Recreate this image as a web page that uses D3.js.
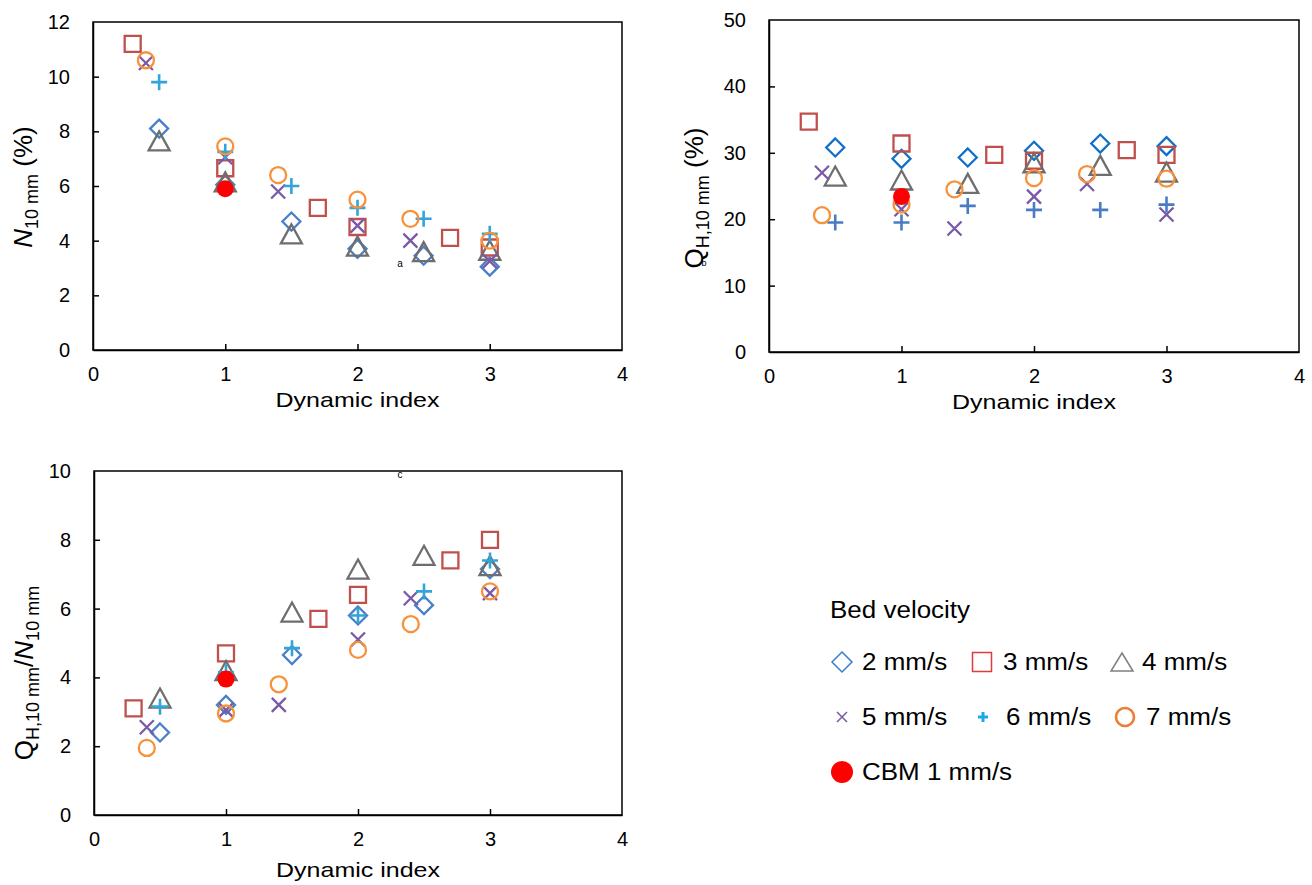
<!DOCTYPE html>
<html>
<head>
<meta charset="utf-8">
<script src="https://cdn.jsdelivr.net/npm/d3@7/dist/d3.min.js"></script>
<style>
  body { margin: 0; background: #fff; }
  svg text { font-family: "Liberation Sans", Arial, sans-serif; fill: #000; }
</style>
</head>
<body>
<svg id="chart" width="1312" height="885"></svg>
<script>
// series names, legend order
var velocities = ["2 mm/s", "3 mm/s", "4 mm/s", "5 mm/s", "6 mm/s", "7 mm/s"];
var cbmLabel = "CBM 1 mm/s";

// dynamic index per series
var x2 = [0.5, 1, 1.5, 2, 2.5, 3];
var x3 = [0.3, 1, 1.7, 2, 2.7, 3];
var x4 = [0.5, 1, 1.5, 2, 2.5, 3];
var x5 = [0.4, 1, 1.4, 2, 2.4, 3];
var x6 = [0.5, 1, 1.5, 2, 2.5, 3];
var x7 = [0.4, 1, 1.4, 2, 2.4, 3];
var xCbm = [1];

// (a) N 10 mm (%)
var n10_2 = [8.1, 6.05, 4.7, 3.7, 3.45, 3.05];
var n10_3 = [11.2, 6.65, 5.2, 4.5, 4.1, 3.75];
var n10_4 = [7.65, 6.15, 4.25, 3.8, 3.6, 3.65];
var n10_5 = [10.5, 7.05, 5.8, 4.55, 4.0, 3.25];
var n10_6 = [9.8, 7.25, 6.0, 5.2, 4.8, 4.25];
var n10_7 = [10.6, 7.45, 6.4, 5.5, 4.8, 4.0];
var n10_cbm = [5.9];

// (b) QH,10 mm (%)
var qh_2 = [30.8, 29.1, 29.3, 30.3, 31.4, 31.0];
var qh_3 = [34.7, 31.4, 29.7, 28.8, 30.4, 29.7];
var qh_4 = [26.5, 25.9, 25.4, 28.5, 28.1, 27.1];
var qh_5 = [27.0, 21.5, 18.6, 23.4, 25.3, 20.7];
var qh_6 = [19.5, 19.5, 22.0, 21.4, 21.4, 22.2];
var qh_7 = [20.6, 22.2, 24.5, 26.2, 26.8, 26.1];
var qh_cbm = [23.4];

// (c) QH,10 mm / N10 mm
var ratio_2 = [2.4, 3.2, 4.65, 5.8, 6.1, 7.15];
var ratio_3 = [3.1, 4.7, 5.7, 6.4, 7.4, 8.0];
var ratio_4 = [3.4, 4.2, 5.9, 7.15, 7.55, 7.25];
var ratio_5 = [2.55, 3.05, 3.2, 5.1, 6.3, 6.45];
var ratio_6 = [3.15, 4.15, 4.85, 5.8, 6.5, 7.4];
var ratio_7 = [1.95, 2.95, 3.8, 4.8, 5.55, 6.5];
var ratio_cbm = [3.95];

var xTicks = [0, 1, 2, 3, 4];
var yTicksA = [0, 2, 4, 6, 8, 10, 12];
var yTicksB = [0, 10, 20, 30, 40, 50];
var yTicksC = [0, 2, 4, 6, 8, 10];

var svg = d3.select("#chart");

// text that is a little wider than tall, like the source figure
function wideText(parent, x, y, size, sx, anchor) {
    return parent.append("text")
        .attr("transform", "translate(" + x + "," + y + ") scale(" + sx + ",1)")
        .attr("text-anchor", anchor || "start")
        .style("font-size", size + "px");
}

// marker shapes
var shapes = {
    diamond: "M0,-9L9,0L0,9L-9,0Z",
    square: "M-8,-8H8V8H-8Z",
    triangle: "M0,-9.5L10.5,9.5L-10.5,9.5Z",
    cross: "M-7,-7L7,7M-7,7L7,-7",
    plus: "M-8,0H8M0,-8V8",
    circle: "M8,0A8,8 0 1,1 -8,0A8,8 0 1,1 8,0Z"
};
var shapeOf = ["diamond", "square", "triangle", "cross", "plus", "circle"];
var colorsAC = ["#4a80c8", "#c0504d", "#6e6e6e", "#7a5aa6", "#33a4d8", "#f7923a"];
var colorsB = ["#1070c8", "#c0504d", "#6e6e6e", "#7a5aa6", "#4a7cc4", "#f7923a"];

var xsets = [x2, x3, x4, x5, x6, x7];

var panels = [
    { box: [93, 622, 22, 350], ymax: 12, ticks: yTicksA, ys: [n10_2, n10_3, n10_4, n10_5, n10_6, n10_7], cbm: n10_cbm, colors: colorsAC, title: 57 },
    { box: [769, 1299, 20, 352], ymax: 50, ticks: yTicksB, ys: [qh_2, qh_3, qh_4, qh_5, qh_6, qh_7], cbm: qh_cbm, colors: colorsB, title: 57 },
    { box: [94, 622, 471, 815], ymax: 10, ticks: yTicksC, ys: [ratio_2, ratio_3, ratio_4, ratio_5, ratio_6, ratio_7], cbm: ratio_cbm, colors: colorsAC, title: 62 }
];

panels.forEach(function (p) {
    var x = d3.scaleLinear().domain([0, 4]).range([p.box[0], p.box[1]]);
    var y = d3.scaleLinear().domain([0, p.ymax]).range([p.box[3], p.box[2]]);
    var g = svg.append("g");

    // frame
    g.append("rect")
        .attr("x", p.box[0]).attr("y", p.box[2])
        .attr("width", p.box[1] - p.box[0]).attr("height", p.box[3] - p.box[2])
        .attr("fill", "none").attr("stroke", "#000").attr("stroke-width", 1.5);

    var xa = g.append("g")
        .attr("transform", "translate(0," + p.box[3] + ")")
        .call(d3.axisBottom(x).tickValues(xTicks).tickFormat(d3.format("d"))
            .tickSizeInner(-6).tickSizeOuter(0).tickPadding(17));
    var ya = g.append("g")
        .attr("transform", "translate(" + p.box[0] + ",0)")
        .call(d3.axisLeft(y).tickValues(p.ticks).tickFormat(d3.format("d"))
            .tickSizeInner(-6).tickSizeOuter(0).tickPadding(23));
    [xa, ya].forEach(function (a) {
        a.select(".domain").attr("stroke", "#000").attr("stroke-width", 1.5);
        a.selectAll(".tick line").attr("stroke", "#000").attr("stroke-width", 1.5);
        a.selectAll("text").style("font-size", "20px").attr("fill", "#000");
    });
    // no ticks at the frame corners
    xa.selectAll(".tick line").filter(function (d) { return d === 0 || d === 4; }).remove();
    ya.selectAll(".tick line").filter(function (d) { return d === 0 || d === p.ymax; }).remove();

    wideText(g, (p.box[0] + p.box[1]) / 2, p.box[3] + p.title, 20.5, 1.22, "middle")
        .text("Dynamic index");

    // series
    p.ys.forEach(function (vals, si) {
        var pts = vals.map(function (v, i) { return [xsets[si][i], v]; });
        g.append("g").selectAll("path")
            .data(pts)
            .enter()
            .append("path")
            .attr("transform", function (d) { return "translate(" + x(d[0]) + "," + y(d[1]) + ")"; })
            .attr("d", shapes[shapeOf[si]])
            .attr("fill", "none")
            .attr("stroke", p.colors[si])
            .attr("stroke-width", si === 4 ? 2.6 : 2.3);
    });
    g.selectAll(".cbm")
        .data(p.cbm)
        .enter()
        .append("circle")
        .attr("class", "cbm")
        .attr("cx", x(xCbm[0]))
        .attr("cy", function (d) { return y(d); })
        .attr("r", 8.5)
        .attr("fill", "#ff0000");
});

// y axis titles
function sub(t, txt) {
    t.append("tspan").attr("dy", 6).style("font-size", "18px").text(txt);
}
var ta = svg.append("text")
    .attr("transform", "translate(32,187) rotate(-90)")
    .attr("text-anchor", "middle")
    .style("font-size", "26px");
ta.append("tspan").style("font-style", "italic").text("N");
sub(ta, "10 mm");
ta.append("tspan").attr("dy", -6).text(" (%)");

var tb = svg.append("text")
    .attr("transform", "translate(703,198) rotate(-90)")
    .attr("text-anchor", "middle")
    .style("font-size", "26px");
tb.append("tspan").text("Q");
sub(tb, "H,10 mm");
tb.append("tspan").attr("dy", -6).text(" (%)");

var tc = svg.append("text")
    .attr("transform", "translate(33,673) rotate(-90)")
    .attr("text-anchor", "middle")
    .style("font-size", "26px");
tc.append("tspan").text("Q");
sub(tc, "H,10 mm");
tc.append("tspan").attr("dy", -6).text("/");
tc.append("tspan").style("font-style", "italic").text("N");
sub(tc, "10 mm");

// small panel letters
svg.append("text").attr("x", 400).attr("y", 267).attr("text-anchor", "middle").style("font-size", "10px").text("a");
svg.append("text").attr("x", 704).attr("y", 266).attr("text-anchor", "middle").style("font-size", "9px").text("b");
svg.append("text").attr("x", 400).attr("y", 478).attr("text-anchor", "middle").style("font-size", "10px").text("c");

// legend
var legend = svg.append("g");
wideText(legend, 830, 618, 23, 1.13).text("Bed velocity");
var legPos = [[842, 662], [982, 662], [1122, 662], [842, 717], [983, 717], [1125, 717]];
var legText = [862, 1003, 1142, 862, 1006, 1146];
var legColors = ["#3a7dd0", "#e03a3a", "#7f7f7f", "#7a5aa6", "#1fa8e8", "#ed7d31"];
var legShapes = {
    diamond: "M0,-10L10,0L0,10L-10,0Z",
    square: "M-9.5,-9.5H9.5V9.5H-9.5Z",
    triangle: "M0,-9L11,9L-11,9Z",
    cross: "M-5,-5L5,5M-5,5L5,-5",
    plus: "M-5,0H5M0,-5V5",
    circle: "M9,0A9,9 0 1,1 -9,0A9,9 0 1,1 9,0Z"
};
velocities.forEach(function (v, i) {
    legend.append("path")
        .attr("transform", "translate(" + legPos[i][0] + "," + legPos[i][1] + ")")
        .attr("d", legShapes[shapeOf[i]])
        .attr("fill", "none")
        .attr("stroke", legColors[i])
        .attr("stroke-width", i === 4 ? 3 : (i === 5 ? 2.6 : 1.5));
    wideText(legend, legText[i], legPos[i][1] + 8, 23, 1.13).text(v);
});
legend.append("circle").attr("cx", 842).attr("cy", 772).attr("r", 11).attr("fill", "#ff0000");
wideText(legend, 862, 780, 23, 1.13).text(cbmLabel);
</script>
</body>
</html>
